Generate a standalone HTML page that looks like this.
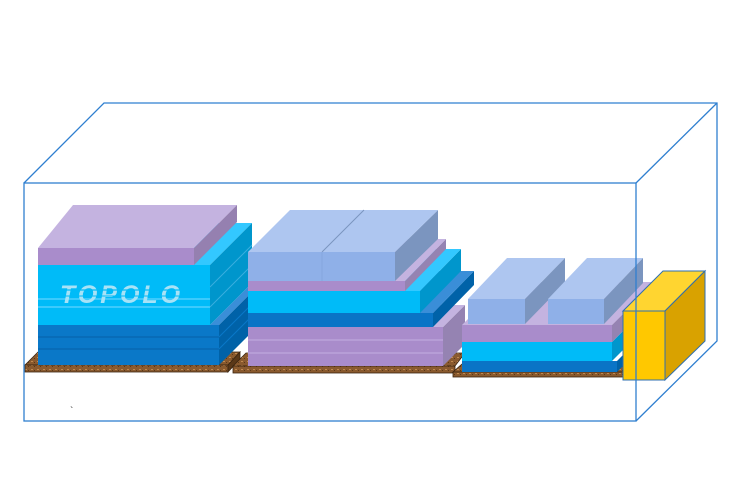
<!DOCTYPE html>
<html><head><style>html,body{margin:0;padding:0;background:#fff}svg{display:block}</style></head>
<body>
<svg width="750" height="500" viewBox="0 0 750 500" xmlns="http://www.w3.org/2000/svg">
<defs>
<pattern id="wood" width="6" height="4" patternUnits="userSpaceOnUse"><rect width="6" height="4" fill="#8a5a2e"/><rect x="1" y="1" width="2" height="1" fill="#c08a50"/><rect x="4" y="2" width="1" height="1" fill="#5a3818"/></pattern>
</defs>
<g fill="none" stroke="#2f7fd0" stroke-width="1.3">
<polyline points="24,183 104,103 717,103 717,341 636,421"/>
<line x1="636" y1="183" x2="717" y2="103"/>
</g>

<g stroke="#3a2410" stroke-width="0.8">
<polygon points="25,365 38,352 240,352 228,365" fill="url(#wood)"/>
<rect x="25" y="365" width="203" height="7" fill="url(#wood)"/>
<polygon points="228,365 240,352 240,359 228,372" fill="#5a3818"/>
<polygon points="233,366 246,353 465,353 455,366" fill="url(#wood)"/>
<rect x="233" y="366" width="222" height="7" fill="url(#wood)"/>
<polygon points="453,372 462,364 630,364 625,372" fill="url(#wood)"/>
<rect x="453" y="372" width="172" height="5" fill="url(#wood)"/>
</g>

<!-- Stack 1 -->
<g>
<polygon points="210,325 252,283 261,283 219,325" fill="#3a8ed8"/>
<polygon points="219,325 261,283 261,323 219,365" fill="#0062a8"/>
<rect x="38" y="325" width="181" height="40" fill="#0a78c8"/>
<line x1="38" y1="337" x2="219" y2="337" stroke="#0560a8"/>
<line x1="38" y1="349" x2="219" y2="349" stroke="#0560a8"/>
<line x1="219" y1="337" x2="261" y2="295" stroke="#0a78c8"/>
<line x1="219" y1="349" x2="261" y2="307" stroke="#0a78c8"/>
<polygon points="38,265 80,223 252,223 210,265" fill="#33c8ff"/>
<polygon points="210,265 252,223 252,283 210,325" fill="#0096cc"/>
<rect x="38" y="265" width="172" height="60" fill="#00bbf8"/>
<line x1="38" y1="299" x2="210" y2="299" stroke="#5fd4ff" stroke-width="1.2"/>
<line x1="38" y1="307" x2="210" y2="307" stroke="#5fd4ff" stroke-width="1.2"/>
<line x1="210" y1="307" x2="252" y2="265" stroke="#3aaee0"/>
<line x1="210" y1="287" x2="252" y2="245" stroke="#3aaee0"/>
<polygon points="38,248 73,205 237,205 194,248" fill="#c4b3e0"/>
<polygon points="194,248 237,205 237,222 194,265" fill="#9580b0"/>
<rect x="38" y="248" width="156" height="17" fill="#a98ccb"/>
<text x="60" y="303" font-family="Liberation Sans, sans-serif" font-size="25" font-weight="bold" font-style="italic" fill="#a8e2f6" letter-spacing="3">TOPOLO</text>
<line x1="55" y1="290" x2="185" y2="290" stroke="#00bbf8" stroke-width="1.2"/>
<line x1="55" y1="296" x2="185" y2="296" stroke="#00bbf8" stroke-width="1"/>
</g>

<!-- Stack 2 -->
<g>
<polygon points="443,327 465,305 465,344 443,366" fill="#9583b2"/>
<polygon points="248,327 270,305 465,305 443,327" fill="#c4b3e0"/>
<rect x="248" y="327" width="195" height="39" fill="#a98ccb"/>
<line x1="248" y1="340" x2="443" y2="340" stroke="#c2aee0"/>
<line x1="248" y1="353" x2="443" y2="353" stroke="#c2aee0"/>
<polygon points="433,313 474,271 474,285 433,327" fill="#0062a8"/>
<polygon points="248,313 290,271 474,271 433,313" fill="#3a8ed8"/>
<rect x="248" y="313" width="185" height="14" fill="#0a74c6"/>
<polygon points="420,291 461,249 461,271 420,313" fill="#0096cc"/>
<polygon points="248,291 290,249 461,249 420,291" fill="#33c8ff"/>
<rect x="248" y="291" width="172" height="22" fill="#00bbf8"/>
<polygon points="405,281 446,239 446,249 405,291" fill="#9583b2"/>
<polygon points="248,281 290,239 446,239 405,281" fill="#c4b3e0"/>
<rect x="248" y="281" width="157" height="10" fill="#a98ccb"/>
<polygon points="395,252 438,210 438,239 395,281" fill="#7b95bf"/>
<polygon points="248,252 290,210 438,210 395,252" fill="#aec6f0"/>
<line x1="322" y1="252" x2="364" y2="210" stroke="#7b95bf"/>
<rect x="248" y="252" width="147" height="29" fill="#8fb0e8"/>
<line x1="322" y1="252" x2="322" y2="281" stroke="#86a6de"/>
</g>

<!-- Stack 3 -->
<g>
<polygon points="617,361 632,346 632,357 617,372" fill="#0062a8"/>
<rect x="462" y="361" width="155" height="11" fill="#0a74c6"/>
<polygon points="612,342 630,324 630,343 612,361" fill="#0096cc"/>
<rect x="462" y="342" width="150" height="19" fill="#00bbf8"/>
<polygon points="462,325 505,282 655,282 612,325" fill="#c4b3e0"/>
<polygon points="612,325 655,282 655,299 612,342" fill="#9583b2"/>
<rect x="462" y="325" width="150" height="17" fill="#a98ccb"/>
<polygon points="468,299 507,258 565,258 525,299" fill="#aec6f0"/>
<polygon points="525,299 565,258 565,283 525,324" fill="#7b95bf"/>
<rect x="468" y="299" width="57" height="25" fill="#8fb0e8"/>
<polygon points="548,299 587,258 643,258 604,299" fill="#aec6f0"/>
<polygon points="604,299 643,258 643,283 604,324" fill="#7b95bf"/>
<rect x="548" y="299" width="56" height="25" fill="#8fb0e8"/>
</g>

<g stroke="#2f6fb0" stroke-width="1">
<polygon points="623,311 663,271 705,271 665,311" fill="#ffd530"/>
<polygon points="665,311 705,271 705,341 665,380" fill="#d9a200"/>
<rect x="623" y="311" width="42" height="69" fill="#ffc800"/>
</g>

<g fill="none" stroke="#2f7fd0" stroke-width="1.3">
<rect x="24" y="183" width="612" height="238"/>
</g>
<text x="70" y="414" font-family="Liberation Sans, sans-serif" font-size="10" fill="#333">`</text>
</svg>
</body></html>
